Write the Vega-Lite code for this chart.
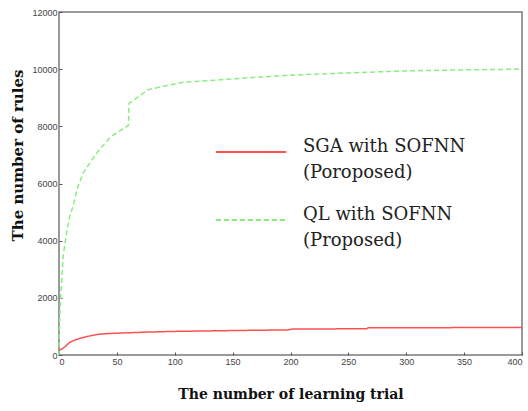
{
  "$schema": "https://vega.github.io/schema/vega-lite/v6.json",
  "width": 463,
  "height": 343,
  "autosize": {"type": "none"},
  "padding": {"left": 59, "top": 12, "right": 6, "bottom": 56},
  "background": "white",
  "config": {
    "view": {"stroke": "#7a7a7a", "strokeWidth": 1.5},
    "axis": {"grid": false, "domain": false, "labelFont": "Liberation Sans", "labelFontSize": 9, "labelColor": "#444", "tickColor": "#555", "tickSize": -3, "titleFont": "DejaVu Serif", "titleFontWeight": "bold", "titleFontSize": 15, "titleColor": "#111"},
    "legend": {"labelFont": "DejaVu Serif", "labelFontSize": 16, "labelColor": "#222"}
  },
  "data": {"values": [
    {"trial": 0, "rules": 0, "series": "QL with SOFNN"},
    {"trial": 0.4, "rules": 1000, "series": "QL with SOFNN"},
    {"trial": 1, "rules": 1700, "series": "QL with SOFNN"},
    {"trial": 2, "rules": 2400, "series": "QL with SOFNN"},
    {"trial": 3.7, "rules": 3500, "series": "QL with SOFNN"},
    {"trial": 6.6, "rules": 4280, "series": "QL with SOFNN"},
    {"trial": 9, "rules": 4800, "series": "QL with SOFNN"},
    {"trial": 12.4, "rules": 5250, "series": "QL with SOFNN"},
    {"trial": 16, "rules": 5850, "series": "QL with SOFNN"},
    {"trial": 21, "rules": 6375, "series": "QL with SOFNN"},
    {"trial": 28, "rules": 6800, "series": "QL with SOFNN"},
    {"trial": 35, "rules": 7190, "series": "QL with SOFNN"},
    {"trial": 45, "rules": 7650, "series": "QL with SOFNN"},
    {"trial": 55, "rules": 7900, "series": "QL with SOFNN"},
    {"trial": 60, "rules": 8030, "series": "QL with SOFNN"},
    {"trial": 60.5, "rules": 8800, "series": "QL with SOFNN"},
    {"trial": 70, "rules": 9080, "series": "QL with SOFNN"},
    {"trial": 77, "rules": 9280, "series": "QL with SOFNN"},
    {"trial": 90, "rules": 9400, "series": "QL with SOFNN"},
    {"trial": 107, "rules": 9540, "series": "QL with SOFNN"},
    {"trial": 130, "rules": 9600, "series": "QL with SOFNN"},
    {"trial": 160, "rules": 9690, "series": "QL with SOFNN"},
    {"trial": 200, "rules": 9790, "series": "QL with SOFNN"},
    {"trial": 250, "rules": 9870, "series": "QL with SOFNN"},
    {"trial": 300, "rules": 9940, "series": "QL with SOFNN"},
    {"trial": 350, "rules": 9975, "series": "QL with SOFNN"},
    {"trial": 400, "rules": 10000, "series": "QL with SOFNN"},
    {"trial": 0, "rules": 150, "series": "SGA with SOFNN"},
    {"trial": 2, "rules": 200, "series": "SGA with SOFNN"},
    {"trial": 5, "rules": 280, "series": "SGA with SOFNN"},
    {"trial": 8, "rules": 400, "series": "SGA with SOFNN"},
    {"trial": 10, "rules": 460, "series": "SGA with SOFNN"},
    {"trial": 15, "rules": 540, "series": "SGA with SOFNN"},
    {"trial": 21, "rules": 615, "series": "SGA with SOFNN"},
    {"trial": 28, "rules": 680, "series": "SGA with SOFNN"},
    {"trial": 35, "rules": 730, "series": "SGA with SOFNN"},
    {"trial": 45, "rules": 755, "series": "SGA with SOFNN"},
    {"trial": 55, "rules": 770, "series": "SGA with SOFNN"},
    {"trial": 75, "rules": 800, "series": "SGA with SOFNN"},
    {"trial": 99, "rules": 825, "series": "SGA with SOFNN"},
    {"trial": 150, "rules": 855, "series": "SGA with SOFNN"},
    {"trial": 199, "rules": 880, "series": "SGA with SOFNN"},
    {"trial": 200, "rules": 905, "series": "SGA with SOFNN"},
    {"trial": 266, "rules": 920, "series": "SGA with SOFNN"},
    {"trial": 267, "rules": 955, "series": "SGA with SOFNN"},
    {"trial": 400, "rules": 960, "series": "SGA with SOFNN"}
  ]},
  "mark": {"type": "line", "strokeWidth": 1.5},
  "encoding": {
    "x": {"field": "trial", "type": "quantitative", "scale": {"domain": [0, 400], "nice": false}, "axis": {"values": [0, 50, 100, 150, 200, 250, 300, 350, 400], "format": "d", "title": "The number of learning trial", "titleFontSize": 14, "titlePadding": 21, "labelPadding": 5}},
    "y": {"field": "rules", "type": "quantitative", "scale": {"domain": [0, 12000], "nice": false}, "axis": {"values": [0, 2000, 4000, 6000, 8000, 10000, 12000], "format": "d", "title": "The number of  rules", "titleY": 143, "titlePadding": 6, "labelPadding": 5}},
    "color": {"field": "series", "type": "nominal", "scale": {"domain": ["SGA with SOFNN", "QL with SOFNN"], "range": ["#ff5050", "#8aec80"]},
      "legend": {"orient": "none", "legendX": 156, "legendY": 104, "title": null, "symbolType": "stroke", "symbolSize": 4900, "symbolStrokeWidth": 2, "labelFont": "DejaVu Serif", "labelFontSize": 16, "labelColor": "#222", "labelOffset": 16, "labelLimit": 300, "rowPadding": 2, "labelBaseline": "top",
        "labelExpr": "datum.label == 'SGA with SOFNN' ? ['SGA with SOFNN', '\u00a0\u00a0(Poroposed)'] : ['QL with SOFNN', '\u00a0\u00a0(Proposed)']",
        "encode": {"labels": {"update": {"lineHeight": {"value": 26}, "dy": {"value": -14}, "font": {"value": "DejaVu Serif"}, "fontSize": {"value": 18}}}}}},
    "strokeDash": {"field": "series", "type": "nominal", "scale": {"domain": ["SGA with SOFNN", "QL with SOFNN"], "range": [[1, 0], [5, 3]]}, "legend": null}
  }
}
